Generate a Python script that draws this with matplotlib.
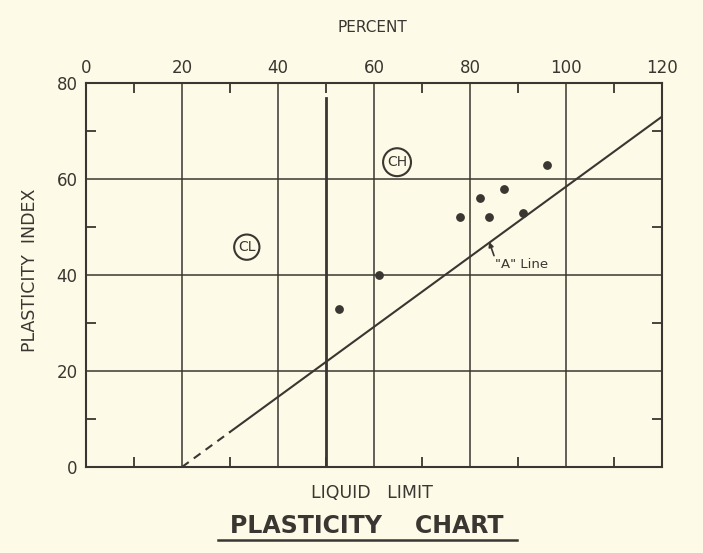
import matplotlib.pyplot as plt
from matplotlib.lines import Line2D

# liquid limit / plasticity index of the samples
liquid_limit = [52.7, 61, 78, 82, 84, 87, 91, 96]
plasticity_index = [33, 40, 52, 56, 52, 58, 53, 63]

x_ticks = [0, 20, 40, 60, 80, 100, 120]
y_ticks = [0, 20, 40, 60, 80]
x_minor = [10, 30, 50, 70, 90, 110]
y_minor = [10, 30, 50, 70]

# "A" line: PI = 0.73 (LL - 20), dashed near its start
a_dash_x = [20, 30]
a_solid_x = [30, 120]
a_slope = 0.73
a_origin = 20

# LL = 50 boundary
boundary_ll = 50
boundary_top = 76.8

ink = '#3a3631'
paper = '#fdfbe7'

plt.rcParams['font.family'] = ['DejaVu Sans']

fig = plt.figure(figsize=(7.03, 5.53), dpi=100, facecolor=paper)
ax = fig.add_axes([86 / 703, 86 / 553, 576 / 703, 384 / 553], facecolor=paper)

ax.set_xlim(0, 120)
ax.set_ylim(0, 80)

# grid
for gx in x_ticks[1:-1]:
  ax.axvline(gx, color=ink, lw=1.1, zorder=1)
for gy in y_ticks[1:-1]:
  ax.axhline(gy, color=ink, lw=1.1, zorder=1)

# LL=50 line
ax.plot([boundary_ll, boundary_ll], [0, boundary_top], color=ink, lw=2.0, zorder=2)

# A line
ax.plot(a_dash_x, [a_slope * (x - a_origin) for x in a_dash_x], color=ink, lw=1.5,
        ls=(0, (4, 3)), zorder=2)
ax.plot(a_solid_x, [a_slope * (x - a_origin) for x in a_solid_x], color=ink, lw=1.5, zorder=2)

# samples
ax.scatter(liquid_limit, plasticity_index, s=28, color=ink, zorder=3)

# labels inside chart
circ = dict(boxstyle='circle,pad=0.28', fc='none', ec=ink, lw=1.5)
ax.text(33.5, 45.8, 'CL', ha='center', va='center', fontsize=10, color=ink, bbox=circ)
ax.text(64.8, 63.5, 'CH', ha='center', va='center', fontsize=10, color=ink, bbox=circ)
ax.annotate('"A" Line', xy=(84.0, 46.9), xytext=(85.2, 42.1), ha='left', va='center',
            fontsize=9.5, color=ink,
            arrowprops=dict(arrowstyle='-|>', color=ink, lw=1.2, mutation_scale=7,
                            shrinkA=0, shrinkB=0, relpos=(0, 1)))

# frame and ticks
for s in ax.spines.values():
  s.set_color(ink)
  s.set_linewidth(1.5)

ax.set_xticks(x_ticks)
ax.set_yticks(y_ticks)
ax.set_xticks(x_minor, minor=True)
ax.set_yticks(y_minor, minor=True)
ax.tick_params(which='major', length=0, colors=ink, labelsize=12,
               top=True, bottom=False, labeltop=True, labelbottom=False, pad=4)
ax.tick_params(axis='y', which='major', pad=6)
ax.tick_params(which='minor', direction='in', length=7, width=1.3, color=ink,
               top=True, bottom=True, left=True, right=True)
for lab in ax.get_xticklabels() + ax.get_yticklabels():
  lab.set_color(ink)

# axis titles
fig.text(372 / 703, 1 - 28 / 553, 'PERCENT', ha='center', va='center', fontsize=11, color=ink)
fig.text(30 / 703, 1 - 270 / 553, 'PLASTICITY  INDEX', ha='center', va='center', rotation=90,
         fontsize=12.5, color=ink)
fig.text(372 / 703, 1 - 493 / 553, 'LIQUID   LIMIT', ha='center', va='center', fontsize=12.5,
         color=ink)
fig.text(367 / 703, 1 - 526 / 553, 'PLASTICITY    CHART', ha='center', va='center', fontsize=17,
         fontweight='bold', color=ink)
fig.add_artist(Line2D([218 / 703, 517 / 703], [1 - 540 / 553, 1 - 540 / 553], color=ink, lw=1.8))

fig.savefig('out.png', dpi=100, facecolor=paper)
